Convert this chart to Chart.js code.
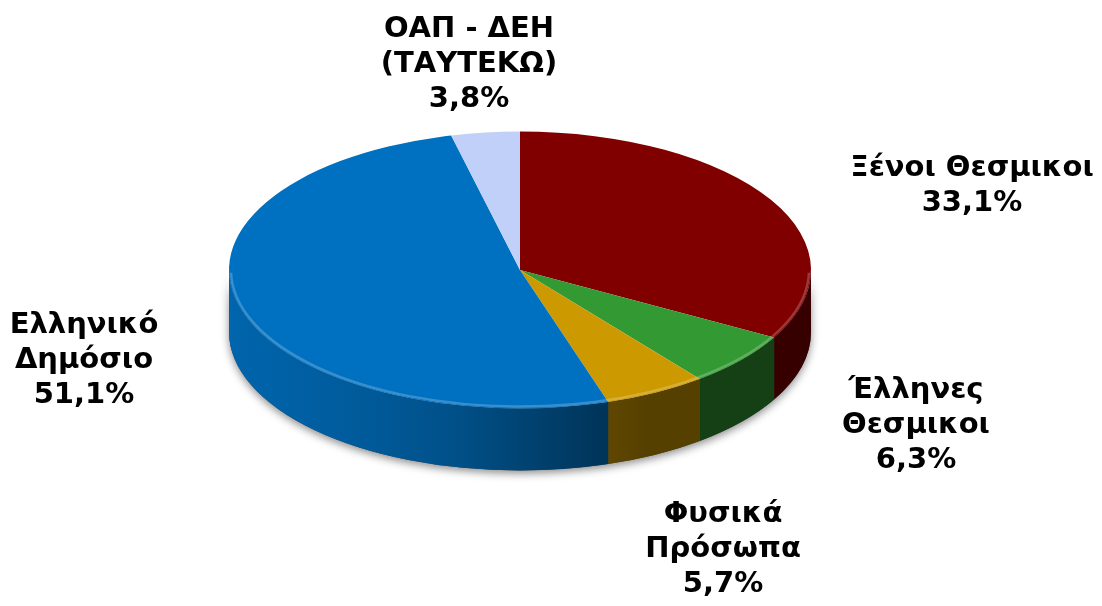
<!DOCTYPE html>
<html>
<head>
<meta charset="utf-8">
<script src="https://cdn.jsdelivr.net/npm/chart.js@4.4.1/dist/chart.umd.min.js"></script>
<style>
  html, body { margin: 0; padding: 0; background: #fff; }
  #wrap { width: 1102px; height: 606px; }
</style>
</head>
<body>
<div id="wrap"><canvas id="myChart" width="1102" height="606"></canvas></div>
<script>
// data, clockwise from 12 o'clock
const categories = ['Ξένοι Θεσμικοι', 'Έλληνες Θεσμικοι', 'Φυσικά Πρόσωπα', 'Ελληνικό Δημόσιο', 'ΟΑΠ - ΔΕΗ (ΤΑΥΤΕΚΩ)'];
const shares = [33.1, 6.3, 5.7, 51.1, 3.8];
const sliceColors = ['#800000', '#339933', '#CC9900', '#0070C0', '#C0D0F8'];
const labelLines = [
  ['Ξένοι Θεσμικοι'],
  ['Έλληνες', 'Θεσμικοι'],
  ['Φυσικά', 'Πρόσωπα'],
  ['Ελληνικό', 'Δημόσιο'],
  ['ΟΑΠ - ΔΕΗ', '(ΤΑΥΤΕΚΩ)']
];

// layout of the fake 3d look
const tilt = 0.476;        // vertical squash of the top face
const faceCenterY = 270;   // where the squashed top face is centred
const depth = 62;          // thickness of the wall
const labelSpots = [[972, 176], [916, 398], [723, 522], [84, 333], [469, 37]];
const lineGap = 35;
const wallShade = [[0, 0.9], [0.2, 0.82], [0.38, 0.72], [0.63, 0.48], [0.72, 0.42], [1, 0.42]];

function shade(hex, f) {
  const n = parseInt(hex.slice(1), 16);
  const r = (n >> 16) & 255, g = (n >> 8) & 255, b = n & 255;
  return 'rgb(' + Math.round(r * f) + ',' + Math.round(g * f) + ',' + Math.round(b * f) + ')';
}

const pie3d = {
  id: 'pie3d',
  beforeDatasetsDraw(chart) {
    const ctx = chart.ctx;
    const arcs = chart.getDatasetMeta(0).data;
    const x = arcs[0].x, r = arcs[0].outerRadius;
    const ry = r * tilt, cy = faceCenterY;

    // soft shadow under the front wall
    ctx.save();
    ctx.shadowColor = 'rgba(0,0,0,0.45)';
    ctx.shadowBlur = 8;
    ctx.shadowOffsetY = 3;
    ctx.beginPath();
    ctx.ellipse(x, cy, r, ry, 0, 0, Math.PI);
    ctx.ellipse(x, cy + depth, r, ry, 0, Math.PI, 0, true);
    ctx.closePath();
    ctx.fillStyle = '#444';
    ctx.fill();
    ctx.restore();

    // walls of the slices that face us
    arcs.forEach((arc, i) => {
      const a = Math.max(arc.startAngle, 0), b = Math.min(arc.endAngle, Math.PI);
      if (a >= b) return;
      const g = ctx.createLinearGradient(x - r, 0, x + r, 0);
      wallShade.forEach(([t, f]) => g.addColorStop(t, shade(sliceColors[i], f)));
      ctx.beginPath();
      ctx.ellipse(x, cy, r, ry, 0, a, b);
      ctx.ellipse(x, cy + depth, r, ry, 0, b, a, true);
      ctx.closePath();
      ctx.fillStyle = g;
      ctx.fill();
    });

    // squash the top face
    ctx.save();
    ctx.translate(0, cy);
    ctx.scale(1, tilt);
    ctx.translate(0, -arcs[0].y);
  },
  afterDatasetsDraw(chart) {
    const ctx = chart.ctx;
    ctx.restore();
    const arcs = chart.getDatasetMeta(0).data;
    const x = arcs[0].x, r = arcs[0].outerRadius;
    // light bevel along the front rim
    ctx.save();
    ctx.beginPath();
    ctx.ellipse(x, faceCenterY, r - 2, r * tilt - 2, 0, 0.02, Math.PI - 0.02);
    ctx.strokeStyle = 'rgba(255,255,255,0.22)';
    ctx.lineWidth = 2.5;
    ctx.stroke();
    ctx.restore();
  },
  afterDraw(chart) {
    const ctx = chart.ctx;
    ctx.save();
    ctx.font = 'bold 29px "DejaVu Sans"';
    ctx.fillStyle = '#000';
    ctx.textAlign = 'center';
    ctx.textBaseline = 'alphabetic';
    shares.forEach((v, i) => {
      const lines = labelLines[i].concat([v.toFixed(1).replace('.', ',') + '%']);
      const [lx, ly] = labelSpots[i];
      lines.forEach((t, k) => ctx.fillText(t, lx, ly + k * lineGap));
    });
    ctx.restore();
  }
};

new Chart(document.getElementById('myChart'), {
  type: 'pie',
  data: {
    labels: categories,
    datasets: [{
      data: shares,
      backgroundColor: sliceColors,
      borderWidth: 0,
      hoverOffset: 0,
      offset: 0
    }]
  },
  options: {
    responsive: false,
    animation: false,
    events: [],
    layout: { padding: { left: 229, right: 291, top: 12, bottom: 12 } },
    plugins: {
      legend: { display: false },
      tooltip: { enabled: false }
    }
  },
  plugins: [pie3d]
});
</script>
</body>
</html>
